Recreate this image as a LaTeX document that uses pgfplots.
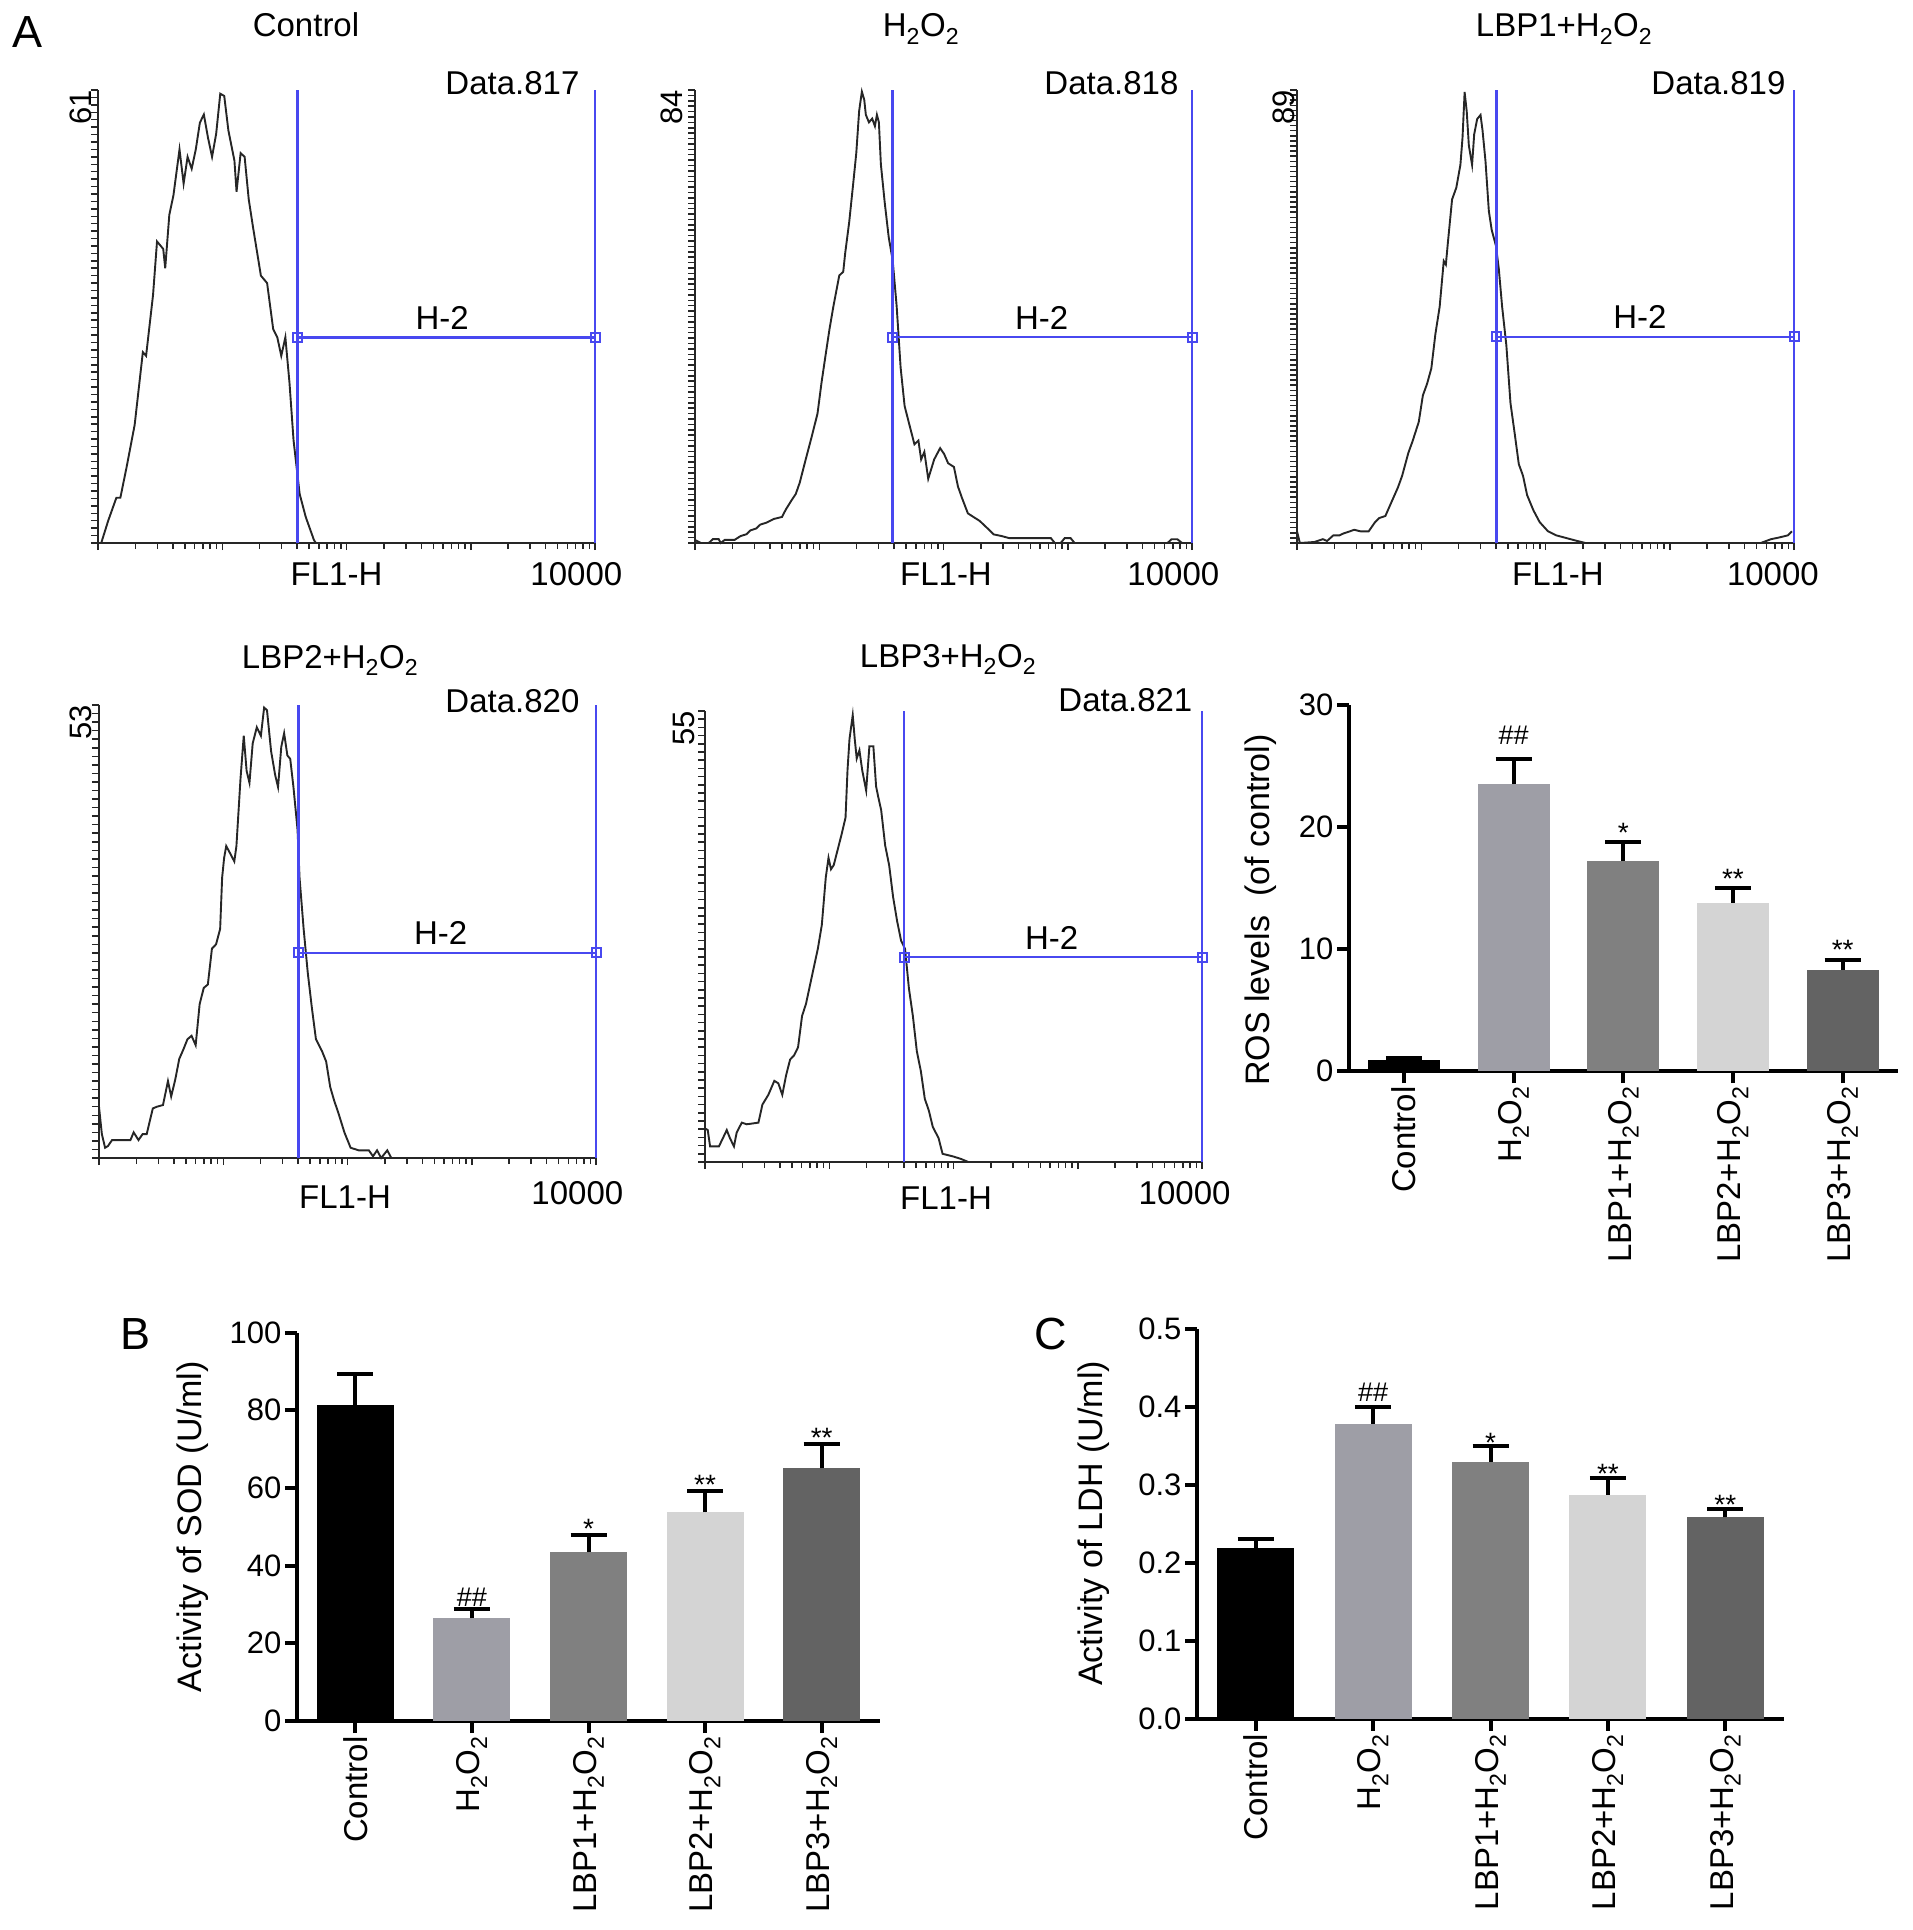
\documentclass[border=0pt]{standalone}
\usepackage{fontspec}
\setmainfont{Liberation Sans}
\usepackage{pgfplots}
\pgfplotsset{compat=1.18}

\definecolor{gateblue}{RGB}{72,72,240}
\definecolor{cH}{RGB}{158,158,166}
\definecolor{cLa}{RGB}{128,128,128}
\definecolor{cLb}{RGB}{212,212,212}
\definecolor{cLc}{RGB}{99,99,99}

\newcommand\fs[1]{\fontsize{#1}{#1}\selectfont}
\newcommand\hho{H\textsubscript{2}O\textsubscript{2}}

\tikzset{lab/.style={font=\fs{33}, inner sep=0pt}}

\pgfplotsset{
  hist/.style={
    scale only axis, width=497pt, height=453pt, anchor=south west,
    xmin=0, xmax=4, ymin=0, clip=false,
    axis x line*=bottom, axis y line*=left,
    axis line style={line width=2pt, black!85},
    tick align=outside, major tick length=7pt, minor tick length=6pt,
    every tick/.style={line width=1.5pt, black!85},
    xtick={0,1,2,3,4},
    minor xtick={0.301,0.477,0.602,0.699,0.778,0.845,0.903,0.954,
      1.301,1.477,1.602,1.699,1.778,1.845,1.903,1.954,
      2.301,2.477,2.602,2.699,2.778,2.845,2.903,2.954,
      3.301,3.477,3.602,3.699,3.778,3.845,3.903,3.954},
    xticklabels={}, ytick distance=1, yticklabels={},
  },
  curve/.style={black!85, line width=1.9pt},
  gateline/.style={gateblue, line width=2.6pt},
  gatemarks/.style={gateblue, line width=2.6pt, mark=square, mark size=4.5pt,
    mark options={solid, line width=2pt}},
  barax/.style={
    scale only axis, anchor=south west, xmin=-0.5, xmax=4.5, ymin=0, clip=false,
    axis x line*=bottom, axis y line*=left,
    axis line style={line width=4pt}, tick align=outside, major tick length=12pt,
    every tick/.style={black, line width=4pt},
    xtick={0,...,4}, xticklabels={Control,\hho,LBP1+\hho,LBP2+\hho,LBP3+\hho},
    xticklabel style={rotate=90, anchor=east, font=\fs{33}},
    yticklabel style={font=\fs{31}, /pgf/number format/assume math mode=true},
    ylabel style={font=\fs{34}},
  },
  onebar/.style={ybar, bar shift=0pt, draw=none, fill=#1,
    error bars/.cd, y dir=plus, y explicit,
    error bar style={black, line width=4pt},
    error mark options={black, line width=4pt, mark size=18pt, rotate=90}},
}

\begin{document}
\begin{tikzpicture}
\useasboundingbox (0pt,0pt) rectangle (1913pt,-1930pt);

% panel letters and histogram titles
\node[font=\fs{45}] at (28pt,-32pt) {A};
\node[font=\fs{45}] at (136pt,-1334pt) {B};
\node[font=\fs{45}] at (1051pt,-1334pt) {C};
\node[lab, anchor=base] at (306pt,-36.5pt) {Control};
\node[lab, anchor=base] at (921pt,-36.5pt) {\hho};
\node[lab, anchor=base] at (1564pt,-36.5pt) {LBP1+\hho};
\node[lab, anchor=base] at (330pt,-668pt) {LBP2+\hho};
\node[lab, anchor=base] at (948pt,-667pt) {LBP3+\hho};

% Control
\begin{axis}[hist, at={(98pt,-543pt)}, ymax=61]
\addplot[curve] coordinates {(0.026,0) (0.082,3.0) (0.148,6.1) (0.180,6.1) (0.230,10.2) (0.295,15.9) (0.361,25.7) (0.387,25.2) (0.443,33.4) (0.475,40.6) (0.525,39.6) (0.541,37.0) (0.574,44.2) (0.607,46.8) (0.656,53.0) (0.689,48.4) (0.721,52.0) (0.754,50.4) (0.787,53.0) (0.820,56.6) (0.852,57.7) (0.885,54.6) (0.918,52.0) (0.951,55.1) (0.984,60.5) (1.016,60.2) (1.049,55.6) (1.098,51.5) (1.115,47.3) (1.148,52.5) (1.180,52.0) (1.213,46.3) (1.246,42.7) (1.311,36.0) (1.361,35.0) (1.410,28.8) (1.443,27.7) (1.475,25.2) (1.508,27.7) (1.541,21.6) (1.574,13.8) (1.623,6.6) (1.672,3.5) (1.738,0.4) (1.754,0)};
\addplot[gateline] coordinates {(1.607,0) (1.607,61)};
\addplot[gateline] coordinates {(4,0) (4,61)};
\addplot[gatemarks] coordinates {(1.607,27.7) (4,27.7)};
\node[lab, anchor=base, yshift=8pt] at (axis cs:2.77,27.7) {H-2};
\node[lab, anchor=base east, yshift=-4pt] at (rel axis cs:0.969,1) {Data.817};
\node[lab, yshift=-31pt] at (axis cs:1.92,0) {FL1-H};
\node[lab, yshift=-31pt] at (axis cs:3.85,0) {10000};
\node[font=\fs{31}, inner sep=0pt, xshift=-6pt, rotate=90, anchor=south east] at (rel axis cs:0,1) {61};
\end{axis}

% H2O2
\begin{axis}[hist, at={(695pt,-543pt)}, ymax=84]
\addplot[curve] coordinates {(0,0.57) (0.048,0) (0.111,0) (0.143,0.71) (0.191,0.71) (0.207,0) (0.239,0.57) (0.318,0.57) (0.366,1.28) (0.414,1.63) (0.446,2.34) (0.493,2.70) (0.525,3.41) (0.573,3.76) (0.636,4.47) (0.700,4.83) (0.732,6.25) (0.780,8.03) (0.811,9.09) (0.843,11.2) (0.891,15.5) (0.939,19.7) (0.986,24.0) (1.018,29.7) (1.050,34.7) (1.082,39.6) (1.114,43.9) (1.161,49.6) (1.193,50.3) (1.209,53.8) (1.241,59.5) (1.273,66.6) (1.298,72.3) (1.321,80.1) (1.343,83.7) (1.362,82.2) (1.375,79.4) (1.400,78.0) (1.426,78.7) (1.448,77.3) (1.464,79.4) (1.480,78.0) (1.496,70.2) (1.527,63.1) (1.559,56.7) (1.591,52.4) (1.623,43.9) (1.655,32.5) (1.687,25.4) (1.718,22.6) (1.766,18.3) (1.798,19.0) (1.820,15.5) (1.846,16.9) (1.877,11.9) (1.925,15.5) (1.973,17.6) (2.005,16.5) (2.037,14.8) (2.084,14.1) (2.116,10.5) (2.148,8.4) (2.196,5.5) (2.243,4.8) (2.291,4.1) (2.355,2.7) (2.403,1.6) (2.466,1.3) (2.530,0.9) (2.864,0.9) (2.896,0) (2.943,0) (2.975,0.9) (3.023,0.9) (3.055,0) (3.803,0) (3.835,0.7) (3.882,0.7) (3.920,0) (3.978,0)};
\addplot[gateline] coordinates {(1.591,0) (1.591,84)};
\addplot[gateline] coordinates {(4,0) (4,84)};
\addplot[gatemarks] coordinates {(1.591,38.2) (4,38.2)};
\node[lab, anchor=base, yshift=8pt] at (axis cs:2.79,38.2) {H-2};
\node[lab, anchor=base east, yshift=-4pt] at (rel axis cs:0.973,1) {Data.818};
\node[lab, yshift=-31pt] at (axis cs:2.02,0) {FL1-H};
\node[lab, yshift=-31pt] at (axis cs:3.85,0) {10000};
\node[font=\fs{31}, inner sep=0pt, xshift=-12pt, rotate=90, anchor=south east] at (rel axis cs:0,1) {84};
\end{axis}

% LBP1 + H2O2
\begin{axis}[hist, at={(1297pt,-543pt)}, ymax=89]
\addplot[curve] coordinates {(0,2.3) (0.023,0) (0.141,0.2) (0.208,0.75) (0.242,0.4) (0.292,1.5) (0.342,1.5) (0.376,1.9) (0.426,2.3) (0.460,2.6) (0.510,2.3) (0.577,2.3) (0.628,4.1) (0.661,4.9) (0.711,5.3) (0.745,7.2) (0.812,10.9) (0.846,13.2) (0.896,17.7) (0.930,20.0) (0.980,23.8) (1.013,29.0) (1.047,31.3) (1.081,34.3) (1.114,41.1) (1.148,46.4) (1.181,55.4) (1.198,54.7) (1.215,59.2) (1.248,67.5) (1.282,69.8) (1.315,74.3) (1.332,79.6) (1.349,88.6) (1.366,84.8) (1.383,78.1) (1.409,74.3) (1.426,80.3) (1.450,83.3) (1.477,84.1) (1.493,81.1) (1.517,75.0) (1.544,65.2) (1.567,61.5) (1.601,58.4) (1.624,53.9) (1.651,46.4) (1.685,38.8) (1.718,27.5) (1.752,21.5) (1.785,15.5) (1.819,13.2) (1.852,9.4) (1.903,6.4) (1.953,4.1) (2.020,2.3) (2.087,1.5) (2.255,0.4) (2.322,0) (3.732,0) (3.815,0.75) (3.883,1.1) (3.950,1.5) (3.983,2.3)};
\addplot[gateline] coordinates {(1.604,0) (1.604,89)};
\addplot[gateline] coordinates {(4,0) (4,89)};
\addplot[gatemarks] coordinates {(1.604,40.5) (4,40.5)};
\node[lab, anchor=base, yshift=8pt] at (axis cs:2.76,40.5) {H-2};
\node[lab, anchor=base east, yshift=-4pt] at (rel axis cs:0.983,1) {Data.819};
\node[lab, yshift=-31pt] at (axis cs:2.10,0) {FL1-H};
\node[lab, yshift=-31pt] at (axis cs:3.83,0) {10000};
\node[font=\fs{31}, inner sep=0pt, xshift=-2pt, rotate=90, anchor=south east] at (rel axis cs:0,1) {89};
\end{axis}

% LBP2 + H2O2
\begin{axis}[hist, at={(99pt,-1158pt)}, ymax=53]
\addplot[curve] coordinates {(0,6.0) (0.023,2.8) (0.049,1.2) (0.072,1.4) (0.105,2.1) (0.253,2.1) (0.279,3.0) (0.318,2.1) (0.351,2.8) (0.384,2.8) (0.433,5.8) (0.466,6.0) (0.515,6.2) (0.555,9.0) (0.581,7.2) (0.614,9.2) (0.646,11.6) (0.679,12.7) (0.712,13.9) (0.745,14.3) (0.778,13.2) (0.810,18.0) (0.843,19.9) (0.876,20.3) (0.909,24.5) (0.942,25.0) (0.975,26.8) (0.991,32.8) (1.007,35.1) (1.024,36.5) (1.057,35.6) (1.089,34.7) (1.106,36.5) (1.139,44.4) (1.165,49.4) (1.188,45.3) (1.211,43.9) (1.237,48.5) (1.270,50.4) (1.303,49.4) (1.329,52.7) (1.352,52.4) (1.385,47.6) (1.418,44.8) (1.441,43.4) (1.467,48.1) (1.490,49.7) (1.516,47.1) (1.539,46.7) (1.565,43.4) (1.598,38.4) (1.614,32.8) (1.647,26.8) (1.680,21.7) (1.713,17.6) (1.746,13.9) (1.795,12.5) (1.828,11.3) (1.861,8.3) (1.893,6.7) (1.926,5.3) (1.975,3.0) (2.025,1.2) (2.090,0.9) (2.172,0.9) (2.205,0.2) (2.238,0.9) (2.271,0) (2.320,0.9) (2.353,0)};
\addplot[gateline] coordinates {(1.608,0) (1.608,53)};
\addplot[gateline] coordinates {(4,0) (4,53)};
\addplot[gatemarks] coordinates {(1.608,24.0) (4,24.0)};
\node[lab, anchor=base, yshift=8pt] at (axis cs:2.75,24.0) {H-2};
\node[lab, anchor=base east, yshift=-7pt] at (rel axis cs:0.967,1) {Data.820};
\node[lab, yshift=-39pt] at (axis cs:1.98,0) {FL1-H};
\node[lab, yshift=-35pt] at (axis cs:3.85,0) {10000};
\node[font=\fs{31}, inner sep=0pt, xshift=-7pt, rotate=90, anchor=south east] at (rel axis cs:0,1) {53};
\end{axis}

% LBP3 + H2O2
\begin{axis}[hist, at={(705pt,-1162pt)}, height=451pt, ymax=55]
\addplot[curve] coordinates {(0,4.1) (0.022,3.9) (0.041,1.9) (0.112,1.9) (0.150,3.1) (0.175,3.9) (0.201,2.9) (0.233,1.9) (0.255,3.6) (0.296,4.8) (0.335,4.6) (0.430,4.8) (0.462,7.0) (0.510,8.2) (0.558,9.9) (0.590,9.6) (0.622,8.2) (0.653,10.6) (0.685,12.5) (0.717,13.0) (0.749,14.0) (0.781,17.8) (0.813,19.3) (0.861,22.7) (0.908,26.0) (0.940,28.9) (0.972,34.7) (0.994,37.1) (1.014,35.7) (1.036,36.2) (1.068,38.1) (1.100,40.0) (1.131,42.0) (1.147,47.8) (1.163,51.6) (1.189,54.5) (1.205,51.6) (1.221,49.2) (1.243,50.2) (1.265,47.8) (1.297,45.3) (1.323,50.7) (1.355,50.7) (1.377,45.8) (1.396,44.4) (1.418,42.9) (1.450,38.6) (1.482,36.2) (1.514,32.3) (1.546,29.4) (1.578,27.0) (1.610,26.0) (1.641,21.2) (1.673,17.8) (1.705,13.5) (1.737,11.1) (1.769,7.7) (1.801,6.3) (1.833,4.3) (1.880,2.9) (1.912,1.0) (1.992,0.7) (2.056,0.4) (2.120,0)};
\addplot[gateline] coordinates {(1.603,0) (1.603,55)};
\addplot[gateline] coordinates {(4,0) (4,55)};
\addplot[gatemarks] coordinates {(1.603,25.0) (4,25.0)};
\node[lab, anchor=base, yshift=8pt] at (axis cs:2.79,25.0) {H-2};
\node[lab, anchor=base east, yshift=0pt] at (rel axis cs:0.981,1) {Data.821};
\node[lab, yshift=-36pt] at (axis cs:1.94,0) {FL1-H};
\node[lab, yshift=-31pt] at (axis cs:3.86,0) {10000};
\node[font=\fs{31}, inner sep=0pt, xshift=-10pt, rotate=90, anchor=south east] at (rel axis cs:0,1) {55};
\end{axis}

% ROS levels
\begin{axis}[barax, at={(1349pt,-1071pt)}, width=548.5pt, height=366pt,
  ymax=30, ytick={0,10,20,30}, bar width=72pt,
  ylabel={ROS levels\ \ (of control)}, ylabel shift=16pt,
  ylabel style={at={(ticklabel cs:0.44)}}]
\addplot[onebar=black] coordinates {(0,0.9) +- (0,0.2)};
\addplot[onebar=cH] coordinates {(1,23.5) +- (0,2.1)};
\addplot[onebar=cLa] coordinates {(2,17.2) +- (0,1.55)};
\addplot[onebar=cLb] coordinates {(3,13.8) +- (0,1.2)};
\addplot[onebar=cLc] coordinates {(4,8.3) +- (0,0.8)};
\node[font=\fs{27}, anchor=base, inner sep=0pt, yshift=14pt] at (axis cs:1,25.6) {\#\#};
\node[font=\fs{28}, anchor=base, inner sep=0pt] at (axis cs:2,18.75) {*};
\node[font=\fs{28}, anchor=base, inner sep=0pt] at (axis cs:3,15.0) {**};
\node[font=\fs{28}, anchor=base, inner sep=0pt] at (axis cs:4,9.1) {**};
\end{axis}

% SOD
\begin{axis}[barax, at={(297pt,-1721pt)}, width=583pt, height=388.5pt,
  ymax=100, ytick={0,20,40,60,80,100}, bar width=77pt,
  ylabel={Activity of SOD (U/ml)}, ylabel shift=14pt]
\addplot[onebar=black] coordinates {(0,81.4) +- (0,7.9)};
\addplot[onebar=cH] coordinates {(1,26.4) +- (0,2.4)};
\addplot[onebar=cLa] coordinates {(2,43.4) +- (0,4.4)};
\addplot[onebar=cLb] coordinates {(3,53.7) +- (0,5.4)};
\addplot[onebar=cLc] coordinates {(4,65.0) +- (0,6.2)};
\node[font=\fs{27}, anchor=base, inner sep=0pt, yshift=3pt] at (axis cs:1,28.8) {\#\#};
\node[font=\fs{28}, anchor=base, inner sep=0pt, yshift=-3pt] at (axis cs:2,47.8) {*};
\node[font=\fs{28}, anchor=base, inner sep=0pt, yshift=-3pt] at (axis cs:3,59.1) {**};
\node[font=\fs{28}, anchor=base, inner sep=0pt, yshift=-3pt] at (axis cs:4,71.2) {**};
\end{axis}

% LDH
\begin{axis}[barax, at={(1197pt,-1718.5pt)}, width=587pt, height=390pt,
  ymax=0.5, ytick={0,0.1,0.2,0.3,0.4,0.5}, bar width=77pt,
  yticklabel style={/pgf/number format/.cd, fixed, fixed zerofill, precision=1},
  ylabel={Activity of LDH (U/ml)}, ylabel shift=22pt]
\addplot[onebar=black] coordinates {(0,0.218) +- (0,0.012)};
\addplot[onebar=cH] coordinates {(1,0.378) +- (0,0.021)};
\addplot[onebar=cLa] coordinates {(2,0.329) +- (0,0.020)};
\addplot[onebar=cLb] coordinates {(3,0.287) +- (0,0.022)};
\addplot[onebar=cLc] coordinates {(4,0.258) +- (0,0.011)};
\node[font=\fs{27}, anchor=base, inner sep=0pt, yshift=6pt] at (axis cs:1,0.399) {\#\#};
\node[font=\fs{28}, anchor=base, inner sep=0pt, yshift=-6pt] at (axis cs:2,0.349) {*};
\node[font=\fs{28}, anchor=base, inner sep=0pt, yshift=-6pt] at (axis cs:3,0.309) {**};
\node[font=\fs{28}, anchor=base, inner sep=0pt, yshift=-6pt] at (axis cs:4,0.269) {**};
\end{axis}
\end{tikzpicture}
\end{document}
